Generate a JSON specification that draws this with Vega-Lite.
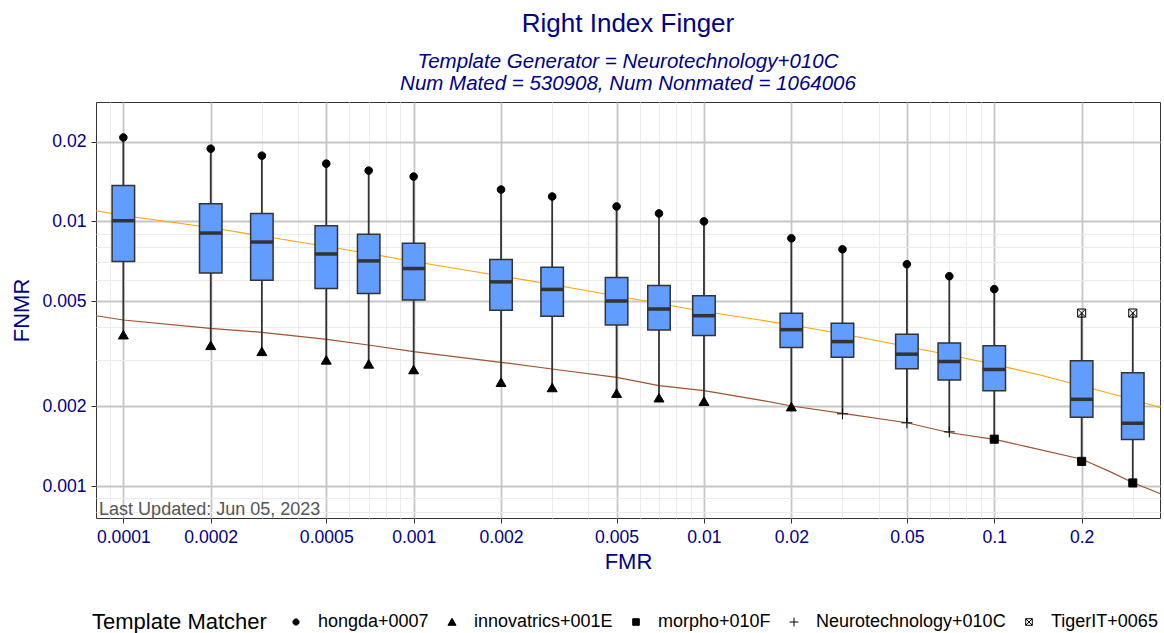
{
  "$schema": "https://vega.github.io/schema/vega-lite/v6.json",
  "width": 1064,
  "height": 416,
  "autosize": {"type": "none"},
  "padding": {"left": 96, "top": 102, "right": 4, "bottom": 115},
  "background": "white",
  "config": {
    "font": "Liberation Sans",
    "view": {"stroke": "#333333", "strokeWidth": 1},
    "axis": {"domain": false},
    "legend": {
      "title": "Template Matcher",
      "orient": "none",
      "legendX": -4,
      "legendY": 511,
      "direction": "horizontal",
      "titleOrient": "left",
      "titleFontSize": 22,
      "titleFontWeight": "normal",
      "titleColor": "black",
      "titlePadding": 20,
      "labelFontSize": 18,
      "labelColor": "black",
      "labelLimit": 0,
      "labelOffset": 13,
      "columnPadding": 14,
      "symbolSize": 60,
      "symbolStrokeWidth": 1
    }
  },
  "title": {
    "text": "Right Index Finger",
    "subtitle": ["Template Generator = Neurotechnology+010C", "Num Mated = 530908, Num Nonmated = 1064006"],
    "anchor": "middle",
    "frame": "group",
    "fontSize": 26,
    "fontWeight": "normal",
    "color": "#00008B",
    "subtitleFontSize": 20.5,
    "subtitleFontStyle": "italic",
    "subtitleColor": "#00008B",
    "subtitleLineHeight": 22,
    "subtitlePadding": 15,
    "offset": 8
  },
  "datasets": {
    "boxes": [
      {"fmr": 0.0001, "lo": 0.003724, "q1": 0.00705, "med": 0.01006, "q3": 0.01366, "hi": 0.02076},
      {"fmr": 0.0002, "lo": 0.003395, "q1": 0.006388, "med": 0.009036, "q3": 0.01166, "hi": 0.01883},
      {"fmr": 0.0003, "lo": 0.003222, "q1": 0.005998, "med": 0.008356, "q3": 0.01072, "hi": 0.01772},
      {"fmr": 0.0005, "lo": 0.002991, "q1": 0.00558, "med": 0.007532, "q3": 0.009634, "hi": 0.01653},
      {"fmr": 0.0007, "lo": 0.002888, "q1": 0.005345, "med": 0.007092, "q3": 0.008935, "hi": 0.01556},
      {"fmr": 0.001, "lo": 0.00275, "q1": 0.005044, "med": 0.006637, "q3": 0.008264, "hi": 0.01477},
      {"fmr": 0.002, "lo": 0.002463, "q1": 0.004613, "med": 0.005909, "q3": 0.007177, "hi": 0.01319},
      {"fmr": 0.003, "lo": 0.002352, "q1": 0.004379, "med": 0.005533, "q3": 0.006712, "hi": 0.01242},
      {"fmr": 0.005, "lo": 0.002239, "q1": 0.004062, "med": 0.005, "q3": 0.006139, "hi": 0.01139},
      {"fmr": 0.007, "lo": 0.002152, "q1": 0.003889, "med": 0.004666, "q3": 0.005728, "hi": 0.01072},
      {"fmr": 0.01, "lo": 0.002089, "q1": 0.003702, "med": 0.004402, "q3": 0.005235, "hi": 0.01},
      {"fmr": 0.02, "lo": 0.001991, "q1": 0.003337, "med": 0.003899, "q3": 0.004494, "hi": 0.008631},
      {"fmr": 0.03, "lo": 0.001874, "q1": 0.003069, "med": 0.003514, "q3": 0.004121, "hi": 0.007846},
      {"fmr": 0.05, "lo": 0.001733, "q1": 0.002773, "med": 0.00315, "q3": 0.003747, "hi": 0.00689},
      {"fmr": 0.07, "lo": 0.001602, "q1": 0.002515, "med": 0.002955, "q3": 0.003475, "hi": 0.006209},
      {"fmr": 0.1, "lo": 0.001503, "q1": 0.002293, "med": 0.002757, "q3": 0.003386, "hi": 0.005546},
      {"fmr": 0.2, "lo": 0.001239, "q1": 0.001819, "med": 0.002126, "q3": 0.002973, "hi": 0.004505},
      {"fmr": 0.3, "lo": 0.001027, "q1": 0.0015, "med": 0.001727, "q3": 0.002679, "hi": 0.004505}
    ],
    "points": [
      {"fmr": 0.0001, "fnmr": 0.02076, "matcher": "hongda+0007"},
      {"fmr": 0.0002, "fnmr": 0.01883, "matcher": "hongda+0007"},
      {"fmr": 0.0003, "fnmr": 0.01772, "matcher": "hongda+0007"},
      {"fmr": 0.0005, "fnmr": 0.01653, "matcher": "hongda+0007"},
      {"fmr": 0.0007, "fnmr": 0.01556, "matcher": "hongda+0007"},
      {"fmr": 0.001, "fnmr": 0.01477, "matcher": "hongda+0007"},
      {"fmr": 0.002, "fnmr": 0.01319, "matcher": "hongda+0007"},
      {"fmr": 0.003, "fnmr": 0.01242, "matcher": "hongda+0007"},
      {"fmr": 0.005, "fnmr": 0.01139, "matcher": "hongda+0007"},
      {"fmr": 0.007, "fnmr": 0.01072, "matcher": "hongda+0007"},
      {"fmr": 0.01, "fnmr": 0.01, "matcher": "hongda+0007"},
      {"fmr": 0.02, "fnmr": 0.008631, "matcher": "hongda+0007"},
      {"fmr": 0.03, "fnmr": 0.007846, "matcher": "hongda+0007"},
      {"fmr": 0.05, "fnmr": 0.00689, "matcher": "hongda+0007"},
      {"fmr": 0.07, "fnmr": 0.006209, "matcher": "hongda+0007"},
      {"fmr": 0.1, "fnmr": 0.005546, "matcher": "hongda+0007"},
      {"fmr": 0.2, "fnmr": 0.004505, "matcher": "TigerIT+0065"},
      {"fmr": 0.3, "fnmr": 0.004505, "matcher": "TigerIT+0065"},
      {"fmr": 0.0001, "fnmr": 0.003724, "matcher": "innovatrics+001E"},
      {"fmr": 0.0002, "fnmr": 0.003395, "matcher": "innovatrics+001E"},
      {"fmr": 0.0003, "fnmr": 0.003222, "matcher": "innovatrics+001E"},
      {"fmr": 0.0005, "fnmr": 0.002991, "matcher": "innovatrics+001E"},
      {"fmr": 0.0007, "fnmr": 0.002888, "matcher": "innovatrics+001E"},
      {"fmr": 0.001, "fnmr": 0.00275, "matcher": "innovatrics+001E"},
      {"fmr": 0.002, "fnmr": 0.002463, "matcher": "innovatrics+001E"},
      {"fmr": 0.003, "fnmr": 0.002352, "matcher": "innovatrics+001E"},
      {"fmr": 0.005, "fnmr": 0.002239, "matcher": "innovatrics+001E"},
      {"fmr": 0.007, "fnmr": 0.002152, "matcher": "innovatrics+001E"},
      {"fmr": 0.01, "fnmr": 0.002089, "matcher": "innovatrics+001E"},
      {"fmr": 0.02, "fnmr": 0.001991, "matcher": "innovatrics+001E"},
      {"fmr": 0.03, "fnmr": 0.001874, "matcher": "Neurotechnology+010C"},
      {"fmr": 0.05, "fnmr": 0.001733, "matcher": "Neurotechnology+010C"},
      {"fmr": 0.07, "fnmr": 0.001602, "matcher": "Neurotechnology+010C"},
      {"fmr": 0.1, "fnmr": 0.001503, "matcher": "morpho+010F"},
      {"fmr": 0.2, "fnmr": 0.001239, "matcher": "morpho+010F"},
      {"fmr": 0.3, "fnmr": 0.001027, "matcher": "morpho+010F"}
    ],
    "lines": [
      {"series": "orange", "fmr": 0.0000805, "fnmr": 0.010976},
      {"series": "orange", "fmr": 0.0001, "fnmr": 0.010527},
      {"series": "orange", "fmr": 0.000199, "fnmr": 0.009483},
      {"series": "orange", "fmr": 0.0002998, "fnmr": 0.008808},
      {"series": "orange", "fmr": 0.000502, "fnmr": 0.008037},
      {"series": "orange", "fmr": 0.0006982, "fnmr": 0.007563},
      {"series": "orange", "fmr": 0.001, "fnmr": 0.007055},
      {"series": "orange", "fmr": 0.002, "fnmr": 0.006219},
      {"series": "orange", "fmr": 0.002997, "fnmr": 0.005774},
      {"series": "orange", "fmr": 0.005007, "fnmr": 0.005225},
      {"series": "orange", "fmr": 0.007019, "fnmr": 0.004894},
      {"series": "orange", "fmr": 0.01, "fnmr": 0.004565},
      {"series": "orange", "fmr": 0.0156, "fnmr": 0.00424},
      {"series": "orange", "fmr": 0.02006, "fnmr": 0.00406},
      {"series": "orange", "fmr": 0.03006, "fnmr": 0.003753},
      {"series": "orange", "fmr": 0.05006, "fnmr": 0.003367},
      {"series": "orange", "fmr": 0.07024, "fnmr": 0.003127},
      {"series": "orange", "fmr": 0.1003, "fnmr": 0.002879},
      {"series": "orange", "fmr": 0.1438, "fnmr": 0.002628},
      {"series": "orange", "fmr": 0.2005, "fnmr": 0.002388},
      {"series": "orange", "fmr": 0.3006, "fnmr": 0.002123},
      {"series": "orange", "fmr": 0.3664, "fnmr": 0.001989},
      {"series": "orange", "fmr": 0.3723, "fnmr": 0.001979},
      {"series": "brown", "fmr": 0.0000805, "fnmr": 0.004401},
      {"series": "brown", "fmr": 0.0001, "fnmr": 0.00424},
      {"series": "brown", "fmr": 0.000199, "fnmr": 0.003945},
      {"series": "brown", "fmr": 0.0003, "fnmr": 0.00381},
      {"series": "brown", "fmr": 0.000502, "fnmr": 0.003584},
      {"series": "brown", "fmr": 0.000698, "fnmr": 0.003411},
      {"series": "brown", "fmr": 0.001, "fnmr": 0.003218},
      {"series": "brown", "fmr": 0.002, "fnmr": 0.002935},
      {"series": "brown", "fmr": 0.002997, "fnmr": 0.002768},
      {"series": "brown", "fmr": 0.005007, "fnmr": 0.002575},
      {"series": "brown", "fmr": 0.007, "fnmr": 0.002394},
      {"series": "brown", "fmr": 0.01, "fnmr": 0.002292},
      {"series": "brown", "fmr": 0.0156, "fnmr": 0.002113},
      {"series": "brown", "fmr": 0.02006, "fnmr": 0.002006},
      {"series": "brown", "fmr": 0.03006, "fnmr": 0.001883},
      {"series": "brown", "fmr": 0.05006, "fnmr": 0.001734},
      {"series": "brown", "fmr": 0.07024, "fnmr": 0.00159},
      {"series": "brown", "fmr": 0.1003, "fnmr": 0.001501},
      {"series": "brown", "fmr": 0.1293, "fnmr": 0.001408},
      {"series": "brown", "fmr": 0.2005, "fnmr": 0.001262},
      {"series": "brown", "fmr": 0.2504, "fnmr": 0.001133},
      {"series": "brown", "fmr": 0.3006, "fnmr": 0.001029},
      {"series": "brown", "fmr": 0.3664, "fnmr": 0.000943},
      {"series": "brown", "fmr": 0.3723, "fnmr": 0.000937}
    ],
    "note": [
      {"fmr": 0.0000825, "fnmr": 0.000777, "label": "Last Updated: Jun 05, 2023"}
    ]
  },
  "layer": [
    {
      "data": {"name": "lines"},
      "mark": {"type": "line", "clip": true, "strokeWidth": 1.2},
      "encoding": {
        "x": {
          "field": "fmr", "type": "quantitative",
          "scale": {"type": "log", "domain": [0.0000805, 0.3723], "nice": false, "zero": false, "padding": 0},
          "axis": {
            "title": "FMR",
            "values": [0.00009, 0.0001, 0.0002, 0.0003, 0.0004, 0.0005, 0.0006, 0.0007, 0.0008, 0.0009, 0.001, 0.002, 0.003, 0.004, 0.005, 0.006, 0.007, 0.008, 0.009, 0.01, 0.02, 0.03, 0.04, 0.05, 0.06, 0.07, 0.08, 0.09, 0.1, 0.2, 0.3],
            "labelExpr": "indexof([0.0001,0.0002,0.0005,0.001,0.002,0.005,0.01,0.02,0.05,0.1,0.2], datum.value) >= 0 ? format(datum.value, '~g') : ''",
            "labelOverlap": false,
            "labelFlush": false,
            "labelFontSize": 17.6,
            "labelColor": "#00008B",
            "labelPadding": 5.5,
            "titleFontSize": 22,
            "titleFontWeight": "normal",
            "titleColor": "#00008B",
            "titlePadding": 5,
            "tickSize": 5,
            "tickWidth": 1,
            "tickColor": {"condition": {"test": "indexof([0.0001,0.0002,0.0005,0.001,0.002,0.005,0.01,0.02,0.05,0.1,0.2], datum.value) >= 0", "value": "#333333"}, "value": "rgba(0,0,0,0)"},
            "gridColor": {"condition": {"test": "indexof([0.0001,0.0002,0.0005,0.001,0.002,0.005,0.01,0.02,0.05,0.1,0.2], datum.value) >= 0", "value": "#C6C6C6"}, "value": "#EBEBEB"},
            "gridWidth": {"condition": {"test": "indexof([0.0001,0.0002,0.0005,0.001,0.002,0.005,0.01,0.02,0.05,0.1,0.2], datum.value) >= 0", "value": 1.8}, "value": 1}
          }
        },
        "y": {
          "field": "fnmr", "type": "quantitative",
          "scale": {"type": "log", "domain": [0.000757, 0.02827], "nice": false, "zero": false, "padding": 0},
          "axis": {
            "title": "FNMR",
            "values": [0.0008, 0.0009, 0.001, 0.002, 0.003, 0.004, 0.005, 0.006, 0.007, 0.008, 0.009, 0.01, 0.02],
            "labelExpr": "indexof([0.001,0.002,0.005,0.01,0.02], datum.value) >= 0 ? format(datum.value, '~g') : ''",
            "labelOverlap": false,
            "labelFlush": false,
            "labelFontSize": 17.6,
            "labelColor": "#00008B",
            "labelPadding": 5,
            "titleFontSize": 22,
            "titleFontWeight": "normal",
            "titleColor": "#00008B",
            "titlePadding": 8,
            "tickSize": 5,
            "tickWidth": 1,
            "tickColor": {"condition": {"test": "indexof([0.001,0.002,0.005,0.01,0.02], datum.value) >= 0", "value": "#333333"}, "value": "rgba(0,0,0,0)"},
            "gridColor": {"condition": {"test": "indexof([0.001,0.002,0.005,0.01,0.02], datum.value) >= 0", "value": "#C6C6C6"}, "value": "#EBEBEB"},
            "gridWidth": {"condition": {"test": "indexof([0.001,0.002,0.005,0.01,0.02], datum.value) >= 0", "value": 1.8}, "value": 1}
          }
        },
        "color": {
          "field": "series", "type": "nominal",
          "scale": {"domain": ["orange", "brown"], "range": ["#FFA500", "#A0522D"]},
          "legend": null
        }
      }
    },
    {
      "data": {"name": "boxes"},
      "mark": {"type": "rule", "color": "#333333", "strokeWidth": 1.8},
      "encoding": {
        "x": {"field": "fmr", "type": "quantitative"},
        "y": {"field": "lo", "type": "quantitative"},
        "y2": {"field": "hi"}
      }
    },
    {
      "data": {"name": "boxes"},
      "mark": {"type": "bar", "size": 22.5, "fill": "#619CFF", "stroke": "#333333", "strokeWidth": 1.5},
      "encoding": {
        "x": {"field": "fmr", "type": "quantitative"},
        "y": {"field": "q1", "type": "quantitative"},
        "y2": {"field": "q3"}
      }
    },
    {
      "data": {"name": "boxes"},
      "mark": {"type": "tick", "orient": "horizontal", "size": 23, "thickness": 3.5, "color": "#333333", "opacity": 1},
      "encoding": {
        "x": {"field": "fmr", "type": "quantitative"},
        "y": {"field": "med", "type": "quantitative"}
      }
    },
    {
      "data": {"name": "points"},
      "mark": {"type": "point", "size": 90, "strokeWidth": 1, "opacity": 1},
      "encoding": {
        "x": {"field": "fmr", "type": "quantitative"},
        "y": {"field": "fnmr", "type": "quantitative"},
        "shape": {
          "field": "matcher", "type": "nominal",
          "scale": {
            "domain": ["hongda+0007", "innovatrics+001E", "morpho+010F", "Neurotechnology+010C", "TigerIT+0065"],
            "range": [
              "M0,-0.8A0.8,0.8,0,1,1,0,0.8A0.8,0.8,0,1,1,0,-0.8Z",
              "M0,-0.95L1.05,0.85L-1.05,0.85Z",
              "M-0.85,-0.85H0.85V0.85H-0.85Z",
              "M-1.15,0H1.15M0,-1.15V1.15",
              "M-0.85,-0.85H0.85V0.85H-0.85ZM-0.85,-0.85L0.85,0.85M0.85,-0.85L-0.85,0.85"
            ]
          },
          "legend": {"title": "Template Matcher"}
        },
        "fill": {
          "field": "matcher", "type": "nominal",
          "scale": {
            "domain": ["hongda+0007", "innovatrics+001E", "morpho+010F", "Neurotechnology+010C", "TigerIT+0065"],
            "range": ["black", "black", "black", "rgba(0,0,0,0)", "rgba(0,0,0,0)"]
          },
          "legend": {"title": "Template Matcher"}
        },
        "stroke": {
          "field": "matcher", "type": "nominal",
          "scale": {
            "domain": ["hongda+0007", "innovatrics+001E", "morpho+010F", "Neurotechnology+010C", "TigerIT+0065"],
            "range": ["black", "black", "black", "black", "black"]
          },
          "legend": {"title": "Template Matcher"}
        }
      }
    },
    {
      "data": {"name": "note"},
      "mark": {"type": "text", "align": "left", "baseline": "alphabetic", "fontSize": 18, "color": "#555555"},
      "encoding": {
        "x": {"field": "fmr", "type": "quantitative"},
        "y": {"field": "fnmr", "type": "quantitative"},
        "text": {"field": "label"}
      }
    }
  ]
}
